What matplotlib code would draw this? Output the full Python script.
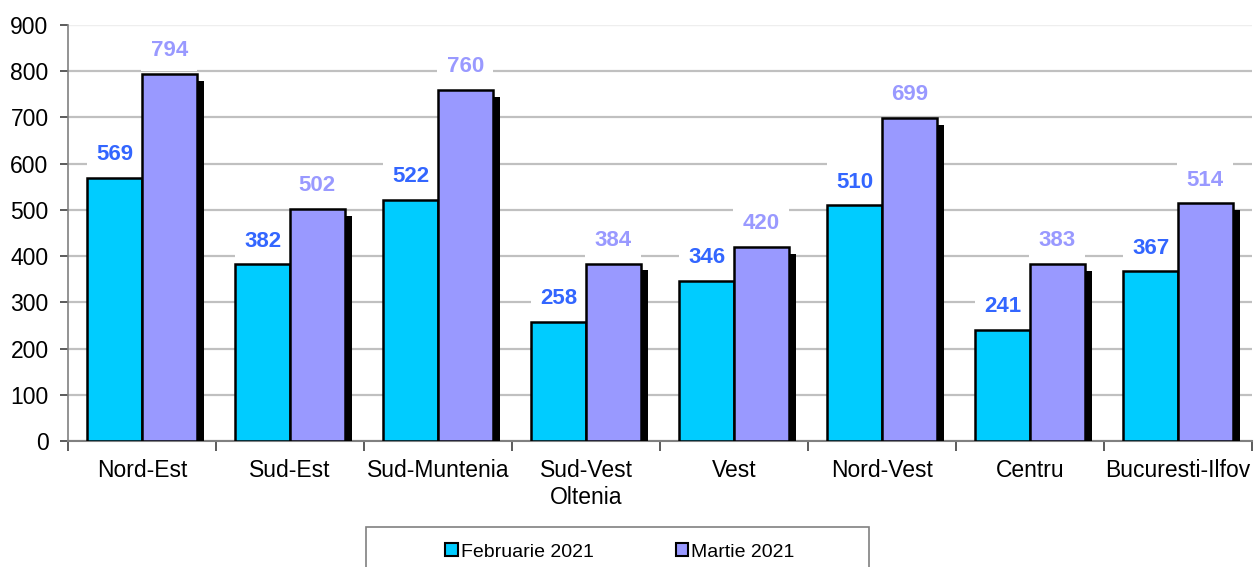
import numpy as np
import matplotlib

matplotlib.use("Agg")
import matplotlib.pyplot as plt
import matplotlib.patheffects as pe
from matplotlib.patches import Rectangle, Patch

regions = ["Nord-Est", "Sud-Est", "Sud-Muntenia", "Sud-Vest\nOltenia", "Vest",
           "Nord-Vest", "Centru", "Bucuresti-Ilfov"]
feb_2021 = [569, 382, 522, 258, 346, 510, 241, 367]
mar_2021 = [794, 502, 760, 384, 420, 699, 383, 514]
series_names = ["Februarie 2021", "Martie 2021"]
colors = ["#00CCFF", "#9999FF"]

plt.rcParams["font.family"] = ["Liberation Sans", "DejaVu Sans"]

fig = plt.figure(figsize=(12.55, 5.67), dpi=100)
ax = fig.add_axes([68 / 1255, 1 - 441 / 567, 1184 / 1255, 416 / 567])

x = np.arange(len(regions))
w = 0.37
shadow = [pe.SimplePatchShadow(offset=(5, -5), shadow_rgbFace="black", alpha=1.0), pe.Normal()]

b1 = ax.bar(x - w / 2, feb_2021, w, color=colors[0], edgecolor="black", linewidth=1.8, zorder=3)
b2 = ax.bar(x + w / 2, mar_2021, w, color=colors[1], edgecolor="black", linewidth=1.8, zorder=3)
for bars in (b1, b2):
    for p in bars:
        p.set_path_effects(shadow)

# value labels with white background (they hide the gridlines), kept behind the bars
for xi, v in zip(x, feb_2021):
    ax.text(xi - w / 2, v + 50, str(v), ha="center", va="center", fontsize=16,
            fontweight="bold", color="#3366FF", zorder=2.5,
            bbox=dict(boxstyle="square,pad=0.42", fc="white", ec="none"))
for xi, v in zip(x, mar_2021):
    ax.text(xi + w / 2, v + 50, str(v), ha="center", va="center", fontsize=16,
            fontweight="bold", color="#9999FF", zorder=2.5,
            bbox=dict(boxstyle="square,pad=0.42", fc="white", ec="none"))

ax.set_xlim(-0.5, len(regions) - 0.5)
ax.set_ylim(0, 900)
ax.set_yticks(range(0, 901, 100))
ax.yaxis.grid(True, color="#C0C0C0", linewidth=1.6, zorder=0)
ax.set_axisbelow(True)
ax.yaxis.get_gridlines()[-1].set_color("#EEEEEE")
ax.yaxis.get_gridlines()[-1].set_linewidth(1.0)

# boundaries as major ticks, names as minor ticks
ax.set_xticks(np.arange(-0.5, len(regions), 1.0))
ax.set_xticklabels([])
ax.set_xticks(x, minor=True)
ax.set_xticklabels(regions, minor=True, fontsize=16.5)
ax.tick_params(axis="x", which="major", length=7, width=1.2, color="#404040")
ax.tick_params(axis="x", which="minor", length=0, pad=13)
ax.tick_params(axis="y", length=6, width=1.2, color="#404040", labelsize=16.5, pad=8)

for s in ["top", "right"]:
    ax.spines[s].set_visible(False)
ax.spines["left"].set_color("#808080")
ax.spines["bottom"].set_color("#808080")
ax.spines["left"].set_linewidth(1.2)
ax.spines["bottom"].set_linewidth(1.5)

# legend box (runs past the bottom edge like the original)
fig.add_artist(Rectangle((366 / 1255, -0.05), 503 / 1255, 0.05 + 40 / 567,
                         transform=fig.transFigure, fc="white", ec="#808080", lw=1.2))
handles = [Patch(fc=c, ec="black", lw=1.5) for c in colors]
fig.legend(handles=handles, labels=series_names, loc="center",
           bbox_to_anchor=(620 / 1255, 1 - 552 / 567), ncol=2, frameon=False,
           fontsize=14, handlelength=0.65, handleheight=0.65, handletextpad=0.15,
           columnspacing=4.2)

plt.savefig("out.png", dpi=100)
